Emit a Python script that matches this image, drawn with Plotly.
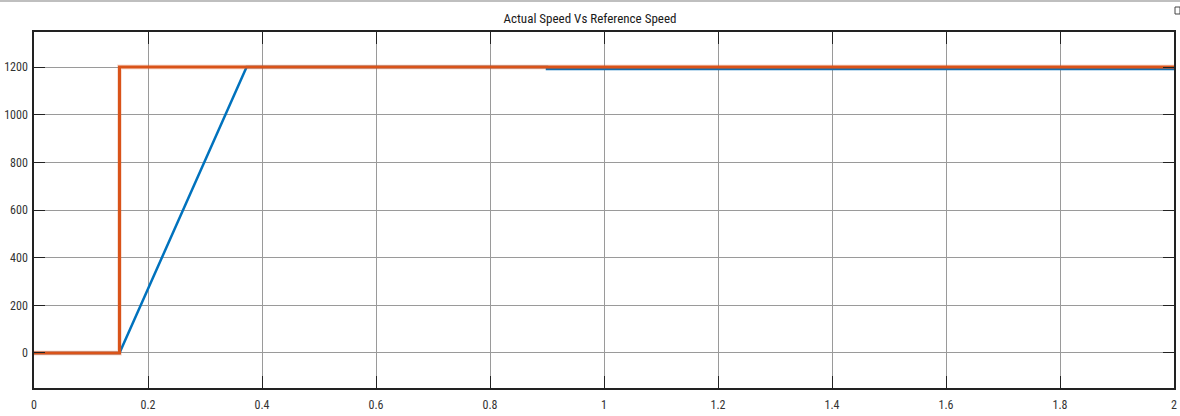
import plotly.graph_objects as go

# Speed traces (time in s, speed in rpm)
actual_t = [0.0, 0.15, 0.373, 0.90, 0.90, 2.0]
actual_speed = [0, 0, 1200, 1200, 1192, 1192]

ref_t = [0.0, 0.15, 0.15, 2.0]
ref_speed = [0, 0, 1200, 1200]

x_ticks = [0, 0.2, 0.4, 0.6, 0.8, 1, 1.2, 1.4, 1.6, 1.8, 2]
x_labels = ["0", "0.2", "0.4", "0.6", "0.8", "1", "1.2", "1.4", "1.6", "1.8", "2"]
y_ticks = [0, 200, 400, 600, 800, 1000, 1200]

font_family = "Liberation Sans Narrow, Arial Narrow, Roboto Condensed, Roboto, sans-serif"

fig = go.Figure()
fig.add_trace(go.Scatter(x=actual_t, y=actual_speed, mode="lines",
                         line=dict(color="#0072BD", width=2.5), name="Actual"))
# soft halo under the reference line
fig.add_trace(go.Scatter(x=ref_t, y=ref_speed, mode="lines",
                         line=dict(color="rgba(217,83,25,0.18)", width=5), hoverinfo="skip"))
fig.add_trace(go.Scatter(x=ref_t, y=ref_speed, mode="lines",
                         line=dict(color="#D95319", width=3), name="Reference"))

fig.update_layout(
    width=1180, height=416,
    margin=dict(l=34, r=6, t=32, b=28),
    paper_bgcolor="white", plot_bgcolor="white",
    showlegend=False,
    title=dict(text="Actual Speed Vs Reference Speed", x=0.5, xanchor="center",
               y=1 - 18 / 416, yanchor="middle",
               font=dict(family=font_family, size=13, color="#1a1a1a")),
    font=dict(family=font_family, size=12, color="#333333"),
)
fig.update_xaxes(
    range=[0, 2], tickvals=x_ticks, ticktext=x_labels, automargin=False,
    showgrid=True, gridcolor="#9a9a9a", gridwidth=1,
    zeroline=False, showline=True, linecolor="#222222", linewidth=1.5,
    mirror="ticks", ticks="inside", ticklen=12, tickcolor="#222222", tickwidth=1,
    ticklabelstandoff=5,
)
fig.update_yaxes(
    range=[-147, 1347], tickvals=y_ticks, automargin=False,
    showgrid=True, gridcolor="#9a9a9a", gridwidth=1,
    zeroline=False, showline=True, linecolor="#222222", linewidth=1.5,
    mirror="ticks", ticks="inside", ticklen=11, tickcolor="#222222", tickwidth=1,
    ticklabelstandoff=2,
)

# thin separator along the top of the window and a small corner icon
fig.add_shape(type="line", xref="paper", yref="paper", x0=-34 / 1140, x1=1 + 6 / 1140,
              y0=1 + 31 / 356, y1=1 + 31 / 356, line=dict(color="#aaaaaa", width=1.5))
fig.add_shape(type="rect", xref="paper", yref="paper",
              x0=1 + 1 / 1140, x1=1 + 6 / 1140, y0=1 + 18 / 356, y1=1 + 25 / 356,
              line=dict(color="#444444", width=1))

fig.write_html("out.html")
